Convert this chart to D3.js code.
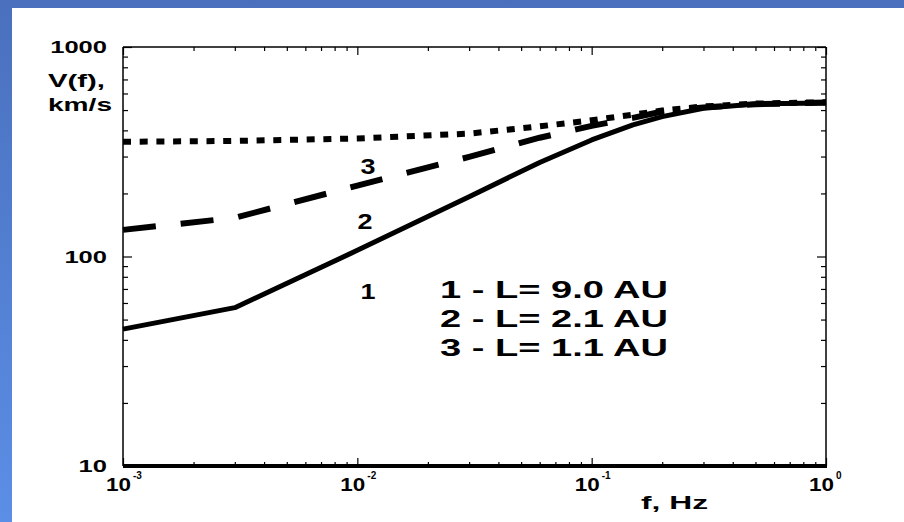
<!DOCTYPE html>
<html>
<head>
<meta charset="utf-8">
<script src="https://cdn.jsdelivr.net/npm/d3@7"></script>
<style>
  html, body { margin: 0; padding: 0; background: #fff; }
  svg { display: block; }
  text { font-family: "Liberation Sans", Arial, sans-serif; font-weight: bold; fill: #000; }
</style>
</head>
<body>
<svg id="chart" width="904" height="522"></svg>
<script>
// ---- data ----
const freqs = [0.001, 0.003, 0.01, 0.03, 0.06, 0.1, 0.15, 0.2, 0.3, 0.5, 1];
const v1 = [45, 57, 107, 193, 281, 360, 425, 465, 510, 535, 541];   // L = 9.0 AU (solid)
const v2 = [134, 153, 218, 299, 369, 420, 459, 492, 515, 533, 543]; // L = 2.1 AU (dashed)
const v3 = [353, 356, 366, 386, 418, 447, 475, 498, 520, 537, 545]; // L = 1.1 AU (dotted)
const xMajor = [0.001, 0.01, 0.1, 1];
const xExp = ["-3", "-2", "-1", "0"];
const yMajor = [10, 100, 1000];
const yLabels = ["10", "100", "1000"];
const legendLines = ["1 - L= 9.0 AU", "2 - L= 2.1 AU", "3 - L= 1.1 AU"];
const curveLabels = ["1", "2", "3"];

const svg = d3.select("#chart");
const W = 904, H = 522;

// blue frame
const defs = svg.append("defs");
const grad = defs.append("linearGradient").attr("id", "bg").attr("x1", 0).attr("y1", 0).attr("x2", 0).attr("y2", 1);
grad.append("stop").attr("offset", "0%").attr("stop-color", "#4a70bd");
grad.append("stop").attr("offset", "100%").attr("stop-color", "#5b8ee6");
svg.append("rect").attr("x", 0).attr("y", 0).attr("width", W).attr("height", H).attr("fill", "url(#bg)");
svg.append("rect").attr("x", 12).attr("y", 8).attr("width", W - 12).attr("height", H - 8).attr("fill", "#fff");

const L = 123, R = 826, T = 47, B = 466;
const x = d3.scaleLog().domain([0.001, 1]).range([L, R]);
const y = d3.scaleLog().domain([10, 1000]).range([B, T]);

// minor tick values
const xMinor = [];
for (let e = -3; e < 0; e++) for (let k = 2; k <= 9; k++) xMinor.push(k * Math.pow(10, e));
const yMinor = [];
for (let e = 1; e < 3; e++) for (let k = 2; k <= 9; k++) yMinor.push(k * Math.pow(10, e));

function drawAxis(axisGen, transform) {
  const g = svg.append("g").attr("transform", transform).call(axisGen);
  g.select(".domain").remove();
  g.selectAll("text").remove();
  g.selectAll("line").attr("stroke", "#000").attr("stroke-width", 1.2);
  return g;
}
// bottom (ticks up), top (ticks down)
drawAxis(d3.axisBottom(x).tickValues(xMinor).tickSize(-4), `translate(0,${B})`);
drawAxis(d3.axisBottom(x).tickValues(xMajor).tickSize(-8), `translate(0,${B})`);
drawAxis(d3.axisTop(x).tickValues(xMinor).tickSize(-4), `translate(0,${T})`);
drawAxis(d3.axisTop(x).tickValues(xMajor).tickSize(-8), `translate(0,${T})`);
// left (ticks right), right (ticks left)
drawAxis(d3.axisLeft(y).tickValues(yMinor).tickSize(-5), `translate(${L},0)`);
drawAxis(d3.axisLeft(y).tickValues(yMajor).tickSize(-9), `translate(${L},0)`);
drawAxis(d3.axisRight(y).tickValues(yMinor).tickSize(-5), `translate(${R},0)`);
drawAxis(d3.axisRight(y).tickValues(yMajor).tickSize(-9), `translate(${R},0)`);

// frame
svg.append("line").attr("x1", L).attr("x2", R).attr("y1", T).attr("y2", T).attr("stroke", "#000").attr("stroke-width", 1.5);
svg.append("line").attr("x1", L).attr("x2", L).attr("y1", T).attr("y2", B).attr("stroke", "#000").attr("stroke-width", 1.5);
svg.append("line").attr("x1", R).attr("x2", R).attr("y1", T).attr("y2", B).attr("stroke", "#000").attr("stroke-width", 1.5);
svg.append("line").attr("x1", L).attr("x2", R + 1).attr("y1", B).attr("y2", B).attr("stroke", "#000").attr("stroke-width", 4);

// y labels
yMajor.forEach((v, i) => {
  const t = yLabels[i];
  svg.append("text").attr("x", 107).attr("y", y(v) + 6).attr("text-anchor", "end")
    .attr("font-size", 17).attr("textLength", t.length * 14.2).attr("lengthAdjust", "spacingAndGlyphs").text(t);
});
// x labels with superscripts
xMajor.forEach((v, i) => {
  const px = x(v);
  svg.append("text").attr("x", px - 17).attr("y", B + 25)
    .attr("font-size", 19).attr("textLength", 25).attr("lengthAdjust", "spacingAndGlyphs").text("10");
  svg.append("text").attr("x", px + 10).attr("y", B + 13)
    .attr("font-size", 10).attr("font-weight", "normal").text(xExp[i]);
});
// axis titles
svg.append("text").attr("x", 48).attr("y", 87).attr("font-size", 18)
  .attr("textLength", 57).attr("lengthAdjust", "spacingAndGlyphs").text("V(f),");
svg.append("text").attr("x", 48).attr("y", 111).attr("font-size", 18)
  .attr("textLength", 64).attr("lengthAdjust", "spacingAndGlyphs").text("km/s");
svg.append("text").attr("x", 641).attr("y", 509).attr("font-size", 19)
  .attr("textLength", 67).attr("lengthAdjust", "spacingAndGlyphs").text("f, Hz");

// curves
const line = d3.line().x(d => x(d[0])).y(d => y(d[1])).curve(d3.curveLinear);
const series = [
  { vals: v1, dash: null, w: 5 },
  { vals: v2, dash: "33,25", w: 6 },
  { vals: v3, dash: "8,8.7", w: 6 }
];
series.forEach(s => {
  const p = svg.append("path").datum(freqs.map((f, i) => [f, s.vals[i]]))
    .attr("d", line).attr("fill", "none").attr("stroke", "#000").attr("stroke-width", s.w)
    .attr("stroke-linejoin", "round");
  if (s.dash) p.attr("stroke-dasharray", s.dash);
});

// curve labels
const curveLabelPos = [[368, 299], [365, 229], [368, 174]];
curveLabels.forEach((t, i) => {
  svg.append("text").attr("x", curveLabelPos[i][0] - 7.5).attr("y", curveLabelPos[i][1])
    .attr("font-size", 22).attr("textLength", 15).attr("lengthAdjust", "spacingAndGlyphs").text(t);
});
// legend text
legendLines.forEach((t, i) => {
  svg.append("text").attr("x", 440).attr("y", 298 + i * 29).attr("font-size", 23)
    .attr("textLength", 228).attr("lengthAdjust", "spacingAndGlyphs").text(t);
});
</script>
</body>
</html>
